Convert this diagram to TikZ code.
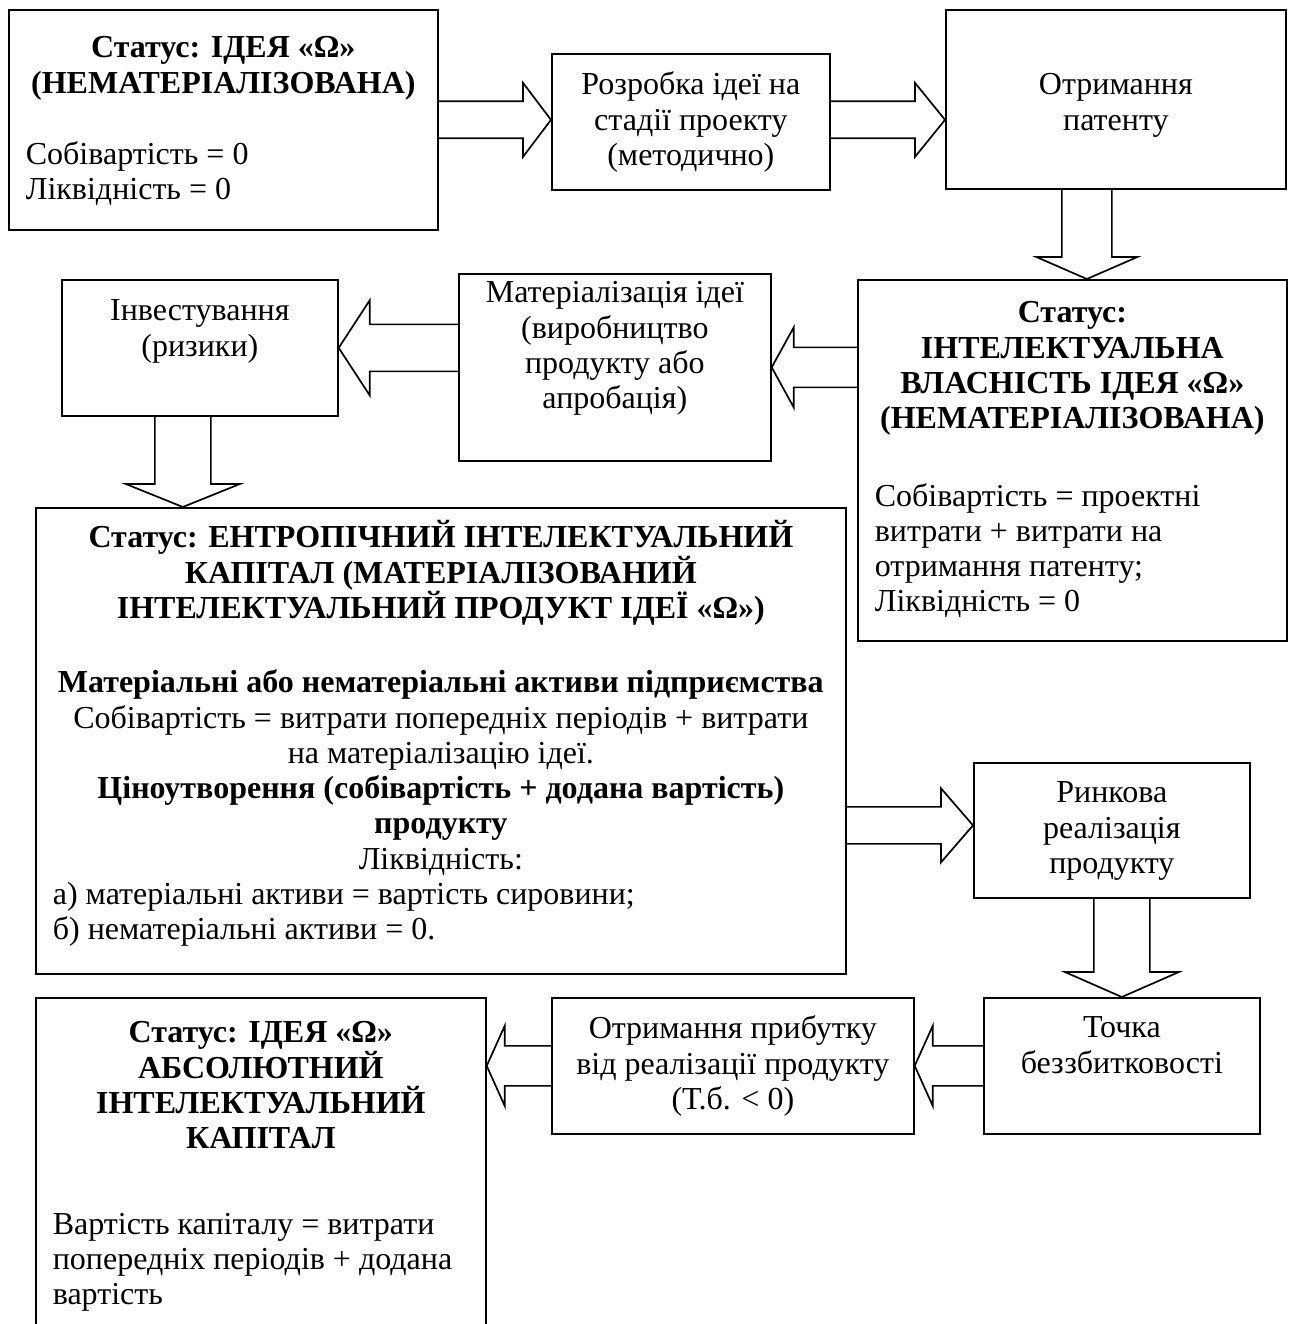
\documentclass[tikz,border=0pt]{standalone}
\usepackage{fontspec}
\setmainfont{Liberation Serif}
\usetikzlibrary{calc}
\setlength{\parskip}{0pt}

% strut that fixes the first baseline below the top of a box
\newcommand{\otstup}[1]{\rule{0pt}{#1pt}}
% hollow block arrow: from, tip, shaft half width, head half width, head length
\newcommand{\blokstrilka}[5]{%
  \coordinate (hb) at ($(#2)!#5!(#1)$);
  \draw[strilka] ($(#1)!#3!90:(#2)$) -- ($(hb)!#3!-90:(#1)$) -- ($(hb)!#4!-90:(#1)$) -- (#2)
    -- ($(hb)!#4!90:(#1)$) -- ($(hb)!#3!90:(#1)$) -- ($(#1)!#3!-90:(#2)$);
}

\tikzset{
  blok/.style={draw, line width=1.7pt, inner xsep=17pt, inner ysep=0pt, anchor=north west},
  strilka/.style={line width=1.7pt, line join=miter},
}

\begin{document}
\begin{tikzpicture}[x=1pt, y=-1pt, every node/.style={font=\fontsize{32}{35.3}\selectfont}]
  \useasboundingbox (0,0) rectangle (1295,1324);

  % top row
  \node[blok] (ideia) at (8,9) {\parbox[c][220pt][t]{395pt}{%
    {\centering\bfseries\otstup{48}Статус: ІДЕЯ «Ω»\\(НЕМАТЕРІАЛІЗОВАНА)\par}
    \vspace{36pt}
    Собівартість = 0\\
    Ліквідність = 0}};
  \node[blok] (rozrobka) at (551,53) {\parbox[c][136pt][t]{244pt}{\centering
    \otstup{41}Розробка ідеї на\\стадії проекту\\(методично)}};
  \node[blok] (patent) at (945,9) {\parbox[c][179pt][t]{306pt}{\centering
    \otstup{85}Отримання\\патенту}};

  % second row
  \node[blok] (vlasnist) at (857,279) {\parbox[c][361pt][t]{395pt}{%
    {\centering\bfseries\otstup{43}Статус:\\ІНТЕЛЕКТУАЛЬНА\\ВЛАСНІСТЬ ІДЕЯ «Ω»\\(НЕМАТЕРІАЛІЗОВАНА)\par}
    \vspace{42pt}
    Собівартість = проектні\\
    витрати + витрати на\\
    отримання патенту;\\
    Ліквідність = 0}};
  \node[blok] (material) at (458,273) {\parbox[c][187pt][t]{278pt}{\centering
    \otstup{29}Матеріалізація ідеї\\(виробництво\\продукту або\\апробація)}};
  \node[blok] (invest) at (61,279) {\parbox[c][136pt][t]{242pt}{\centering
    \otstup{41}Інвестування\\(ризики)}};

  % big box
  \node[blok] (kapital) at (35,507) {\parbox[c][466pt][t]{776pt}{%
    {\centering\bfseries\otstup{40}Статус: ЕНТРОПІЧНИЙ ІНТЕЛЕКТУАЛЬНИЙ\\КАПІТАЛ (МАТЕРІАЛІЗОВАНИЙ\\ІНТЕЛЕКТУАЛЬНИЙ ПРОДУКТ ІДЕЇ «Ω»)\par}
    \vspace{39pt}
    {\centering\textbf{Матеріальні або нематеріальні активи підприємства}\\
    Собівартість = витрати попередніх періодів + витрати\\
    на матеріалізацію ідеї.\\
    \textbf{Ціноутворення (собівартість + додана вартість)}\\
    \textbf{продукту}\\
    Ліквідність:\par}
    а) матеріальні активи = вартість сировини;\\
    б) нематеріальні активи = 0.}};
  \node[blok] (rynok) at (973,762) {\parbox[c][135pt][t]{242pt}{\centering
    \otstup{40}Ринкова\\реалізація\\продукту}};

  % bottom row
  \node[blok] (tochka) at (983,997) {\parbox[c][136pt][t]{242pt}{\centering
    \otstup{40}Точка\\беззбитковості}};
  \node[blok] (prybutok) at (551,997) {\parbox[c][136pt][t]{328pt}{\centering
    \otstup{41}Отримання прибутку\\від реалізації продукту\\(Т.б. < 0)}};
  \node[blok] (absolut) at (35,997) {\parbox[c][333pt][t]{416pt}{%
    {\centering\bfseries\otstup{45}Статус: ІДЕЯ «Ω»\\АБСОЛЮТНИЙ\\ІНТЕЛЕКТУАЛЬНИЙ\\КАПІТАЛ\par}
    \vspace{50pt}
    Вартість капіталу = витрати\\
    попередніх періодів + додана\\
    вартість}};

  % arrows
  \coordinate (cd) at ($(patent.south)+(-29,0)$);
  \coordinate (fg) at ($(invest.south)+(-17,0)$);
  \coordinate (gh) at ($(rynok.west)+(0,-5)$);
  \blokstrilka{ideia.east}{ideia.east -| rozrobka.west}{18.5pt}{37pt}{28pt}
  \blokstrilka{rozrobka.east |- ideia.east}{ideia.east -| patent.west}{18.5pt}{37pt}{30pt}
  \blokstrilka{cd}{cd |- vlasnist.north}{25pt}{50.5pt}{22pt}
  \blokstrilka{vlasnist.west |- material.east}{material.east}{20pt}{40pt}{22pt}
  \blokstrilka{material.west |- invest.east}{invest.east}{23.5pt}{47.5pt}{31pt}
  \blokstrilka{fg}{fg |- kapital.north}{28pt}{57pt}{23pt}
  \blokstrilka{kapital.east |- gh}{gh}{18.5pt}{37pt}{32pt}
  \blokstrilka{tochka.north |- rynok.south}{tochka.north}{28pt}{57pt}{25pt}
  \blokstrilka{tochka.west}{tochka.west -| prybutok.east}{20pt}{40pt}{18pt}
  \blokstrilka{prybutok.west}{prybutok.west -| absolut.east}{20pt}{40pt}{18pt}
\end{tikzpicture}
\end{document}
